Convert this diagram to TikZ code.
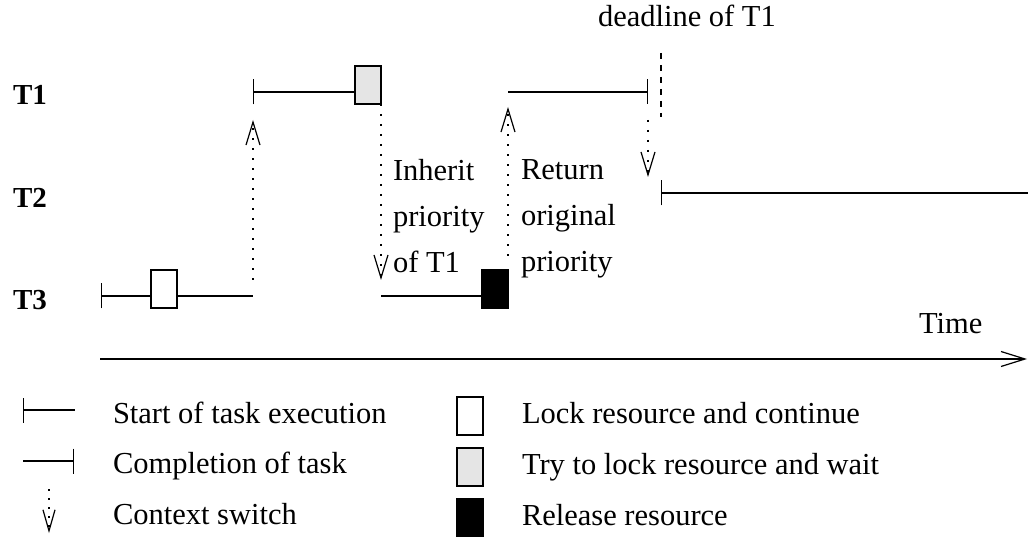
\documentclass[tikz,border=0pt]{standalone}
\usepackage{fontspec}
\setmainfont{Liberation Serif}
\usetikzlibrary{arrows.meta}
\definecolor{lightg}{RGB}{229,229,229}
\begin{document}
\begin{tikzpicture}[x=1pt,y=-1pt,
  every node/.style={inner sep=0pt, outer sep=0pt},
  txt/.style={anchor=base west, font=\fontsize{30.5}{46}\selectfont},
  lbl/.style={anchor=base west, font=\fontsize{29}{46}\selectfont\bfseries},
  seg/.style={line width=1.2pt},
  startseg/.style={seg, {Bar[width=25pt,line width=1.2pt]}-},
  endseg/.style={seg, -{Bar[width=25pt,line width=1.2pt]}},
  ctx/.style={line width=1.4pt, dash pattern=on 2pt off 8pt, -{Straight Barb[length=23pt,width=14pt,line width=1.2pt]}},
  res/.style={draw, line width=1.2pt, minimum width=26pt, minimum height=38pt, anchor=north west},
]
\useasboundingbox (0,0) rectangle (1028,537);

% task labels
\node[lbl] (t1) at (13,105) {T1};
\node[lbl] (t2) at (13,208) {T2};
\node[lbl] (t3) at (13,310) {T3};

% T3 first run
\coordinate (t3s) at (101,296);
\node[res, fill=white] (lock) at (151,270) {};
\coordinate (t3p) at (253,296);
\draw[startseg] (t3s) -- (t3s -| lock.west);
\draw[seg] (t3s -| lock.east) -- (t3p);

% context switch to T1
\coordinate (c1a) at (253,280);
\coordinate (c1b) at (253,120);
\draw[ctx] (c1a) -- (c1b);

% T1 first run
\coordinate (t1s) at (253,92);
\node[res, fill=lightg] (try) at (355,66) {};
\draw[startseg] (t1s) -- (t1s -| try.west);

% context switch back to T3
\coordinate (c2a) at (381,104);
\coordinate (c2b) at (381,280);
\draw[ctx] (c2a) -- (c2b);

% T3 second run
\coordinate (t3r) at (381,296);
\node[res, fill=black] (rel) at (482,270) {};
\draw[seg] (t3r) -- (t3r -| rel.west);

% context switch to T1
\coordinate (c3a) at (508,256);
\coordinate (c3b) at (508,107);
\draw[ctx] (c3a) -- (c3b);

% T1 second run
\coordinate (t1r) at (508,92);
\coordinate (t1e) at (648,92);
\draw[endseg] (t1r) -- (t1e);

% deadline
\node[txt] (dl) at (598,27) {deadline of T1};
\coordinate (dla) at (661,53);
\coordinate (dlb) at (661,117);
\draw[seg, dash pattern=on 6pt off 6pt] (dla) -- (dlb);

% context switch to T2
\coordinate (c4a) at (648,120);
\coordinate (c4b) at (648,177);
\draw[ctx] (c4a) -- (c4b);

% T2 run
\coordinate (t2s) at (661,193);
\coordinate (t2e) at (1028,193);
\draw[startseg] (t2s) -- (t2e);

% annotations
\node[txt, anchor=north west, align=left] (inh) at (393,159.2) {Inherit\\priority\\of T1};
\node[txt, anchor=north west, align=left] (ret) at (521,159.8) {Return\\original\\priority};

% time axis
\node[txt] (time) at (919,334) {Time};
\coordinate (ax0) at (100,359);
\coordinate (ax1) at (1027,359);
\draw[seg, -{Straight Barb[length=24pt,width=15pt,line width=1.2pt]}] (ax0) -- (ax1);

% legend
\coordinate (l1a) at (23,410);
\coordinate (l1b) at (75,410);
\draw[startseg] (l1a) -- (l1b);
\node[txt] (lt1) at (113,423) {Start of task execution};

\coordinate (l2a) at (23,461);
\coordinate (l2b) at (74,461);
\draw[endseg] (l2a) -- (l2b);
\node[txt] (lt2) at (113,473) {Completion of task};

\coordinate (l3a) at (49,489);
\coordinate (l3b) at (49,533);
\draw[line width=1.4pt, dash pattern=on 2pt off 7pt, -{Straight Barb[length=21pt,width=12pt,line width=1.2pt]}] (l3a) -- (l3b);
\node[txt] (lt3) at (113,524) {Context switch};

\node[res, fill=white] (lb1) at (457,397) {};
\node[txt] (lt4) at (522,423) {Lock resource and continue};
\node[res, fill=lightg] (lb2) at (457,448) {};
\node[txt] (lt5) at (522,474) {Try to lock resource and wait};
\node[res, fill=black] (lb3) at (457,499) {};
\node[txt] (lt6) at (522,525) {Release resource};
\end{tikzpicture}
\end{document}
